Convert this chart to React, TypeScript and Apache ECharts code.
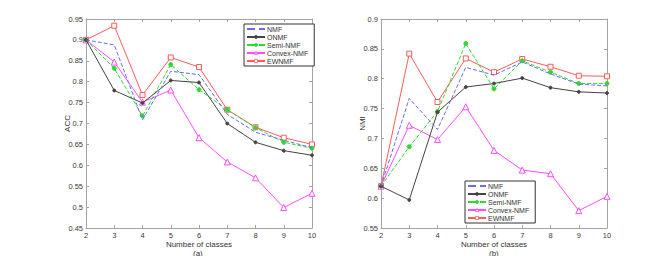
import React, { useEffect, useRef } from "react";
import * as echarts from "echarts";

const classes = [2, 3, 4, 5, 6, 7, 8, 9, 10];
const seriesNames = ["NMF", "ONMF", "Semi-NMF", "Convex-NMF", "EWNMF"];

// ACC (a)
const accNMF = [0.9, 0.888, 0.709, 0.825, 0.817, 0.722, 0.679, 0.66, 0.642];
const accONMF = [0.9, 0.779, 0.749, 0.803, 0.798, 0.7, 0.655, 0.635, 0.624];
const accSemi = [0.9, 0.832, 0.718, 0.841, 0.781, 0.733, 0.69, 0.655, 0.641];
const accConvex = [0.9, 0.847, 0.751, 0.78, 0.666, 0.608, 0.57, 0.499, 0.533];
const accEWNMF = [0.9, 0.934, 0.768, 0.858, 0.835, 0.733, 0.691, 0.666, 0.65];

// NMI (b)
const nmiNMF = [0.62, 0.767, 0.715, 0.819, 0.806, 0.828, 0.808, 0.791, 0.788];
const nmiONMF = [0.62, 0.597, 0.744, 0.786, 0.792, 0.801, 0.785, 0.778, 0.776];
const nmiSemi = [0.62, 0.686, 0.745, 0.859, 0.783, 0.83, 0.811, 0.792, 0.792];
const nmiConvex = [0.62, 0.722, 0.698, 0.753, 0.68, 0.647, 0.641, 0.579, 0.603];
const nmiEWNMF = [0.62, 0.842, 0.761, 0.834, 0.811, 0.833, 0.82, 0.805, 0.804];

const colors = ["#6a6af2", "#444444", "#2fd92f", "#ff4dff", "#ff5a5a"];
const FONT = "Liberation Sans";

const styleFor = (i: number) => {
  switch (i) {
    case 0:
      return { symbol: "none", symbolSize: 0, lineType: "dashed", fill: colors[0] };
    case 1:
      return { symbol: "circle", symbolSize: 3, lineType: "solid", fill: colors[1] };
    case 2:
      return { symbol: "circle", symbolSize: 4, lineType: "dashed", fill: colors[2] };
    case 3:
      return { symbol: "triangle", symbolSize: 6, lineType: "solid", fill: "#ffffff" };
    default:
      return { symbol: "rect", symbolSize: 5, lineType: "solid", fill: "#ffffff" };
  }
};

const makeSeries = (vals: number[][], axisIndex: number) =>
  vals.map((arr, i) => {
    const s = styleFor(i);
    return {
      name: seriesNames[i],
      type: "line",
      xAxisIndex: axisIndex,
      yAxisIndex: axisIndex,
      data: classes.map((c, k) => [c, arr[k]]),
      symbol: s.symbol,
      symbolSize: s.symbolSize,
      showSymbol: s.symbol !== "none",
      lineStyle: { color: colors[i], width: 1, type: s.lineType },
      itemStyle: { color: s.fill, borderColor: colors[i], borderWidth: 1 },
      z: 10 - i,
    };
  });

const axisColor = "#a3a3a3";
const labelStyle = { fontFamily: FONT, fontSize: 7.5, color: "#3a3a3a" };

const xAxisMain = (gridIndex: number) => ({
  type: "value",
  gridIndex,
  min: 2,
  max: 10,
  interval: 1,
  name: "Number of classes",
  nameLocation: "middle",
  nameGap: 12,
  nameMoveOverlap: false,
  nameTextStyle: { fontFamily: FONT, fontSize: 8, color: "#333" },
  axisLine: { show: true, lineStyle: { color: axisColor, width: 1 } },
  axisTick: { show: true, inside: true, length: 3, lineStyle: { color: axisColor } },
  axisLabel: { ...labelStyle, margin: 3 },
  splitLine: { show: false },
});

const xAxisTop = (gridIndex: number) => ({
  type: "value",
  gridIndex,
  position: "top",
  min: 2,
  max: 10,
  interval: 1,
  axisLine: { show: true, lineStyle: { color: axisColor, width: 1 } },
  axisTick: { show: true, inside: true, length: 3, lineStyle: { color: axisColor } },
  axisLabel: { show: false },
  splitLine: { show: false },
});

const fmt = (v: number) => String(+v.toFixed(2));

const yAxisMain = (gridIndex: number, min: number, max: number, name: string) => ({
  type: "value",
  gridIndex,
  min,
  max,
  interval: 0.05,
  name,
  nameLocation: "middle",
  nameGap: 15,
  nameMoveOverlap: false,
  nameTextStyle: { fontFamily: FONT, fontSize: 8, color: "#333" },
  axisLine: { show: true, lineStyle: { color: axisColor, width: 1 } },
  axisTick: { show: true, inside: true, length: 3, lineStyle: { color: axisColor } },
  axisLabel: { ...labelStyle, margin: 3, formatter: fmt },
  splitLine: { show: false },
});

const yAxisRight = (gridIndex: number, min: number, max: number) => ({
  type: "value",
  gridIndex,
  position: "right",
  min,
  max,
  interval: 0.05,
  axisLine: { show: true, lineStyle: { color: axisColor, width: 1 } },
  axisTick: { show: true, inside: true, length: 3, lineStyle: { color: axisColor } },
  axisLabel: { show: false },
  splitLine: { show: false },
});

const legendData = seriesNames.map((name, i) =>
  i === 0
    ? { name, itemStyle: { color: "rgba(0,0,0,0)", borderColor: "rgba(0,0,0,0)" } }
    : { name }
);

const legendBase = {
  orient: "vertical",
  data: legendData,
  itemWidth: 18,
  itemHeight: 4,
  itemGap: 0,
  padding: [1, 6, 1, 2],
  borderColor: "#333",
  borderWidth: 1,
  backgroundColor: "#fff",
  itemStyle: { borderWidth: 0.8 },
  textStyle: { fontFamily: FONT, fontSize: 7, lineHeight: 8, color: "#333", padding: [0, 0, 0, -3] },
  selectedMode: false,
};

export default function App() {
  const ref = useRef<HTMLDivElement>(null);
  useEffect(() => {
    if (!ref.current) return;
    const chart = echarts.init(ref.current, null, { renderer: "svg" });
    chart.setOption({
      animation: false,
      backgroundColor: "#fff",
      grid: [
        { left: 86, top: 19, width: 226, height: 209 },
        { left: 381, top: 19, width: 226, height: 209 },
      ],
      xAxis: [xAxisMain(0), xAxisMain(1), xAxisTop(0), xAxisTop(1)],
      yAxis: [
        yAxisMain(0, 0.45, 0.95, "ACC"),
        yAxisMain(1, 0.55, 0.9, "NMI"),
        yAxisRight(0, 0.45, 0.95),
        yAxisRight(1, 0.55, 0.9),
      ],
      legend: [
        { ...legendBase, left: 244, top: 24 },
        { ...legendBase, left: 465, top: 181 },
      ],
      series: [
        ...makeSeries([accNMF, accONMF, accSemi, accConvex, accEWNMF], 0),
        ...makeSeries([nmiNMF, nmiONMF, nmiSemi, nmiConvex, nmiEWNMF], 1),
      ],
      graphic: [
        { type: "text", left: 193, top: 249, style: { text: "(a)", font: `8px ${FONT}`, fill: "#333" } },
        { type: "text", left: 489, top: 249, style: { text: "(b)", font: `8px ${FONT}`, fill: "#333" } },
      ],
    });
    return () => chart.dispose();
  }, []);
  return <div ref={ref} style={{ width: 669, height: 256, position: "absolute", left: 0, top: 0 }} />;
}
